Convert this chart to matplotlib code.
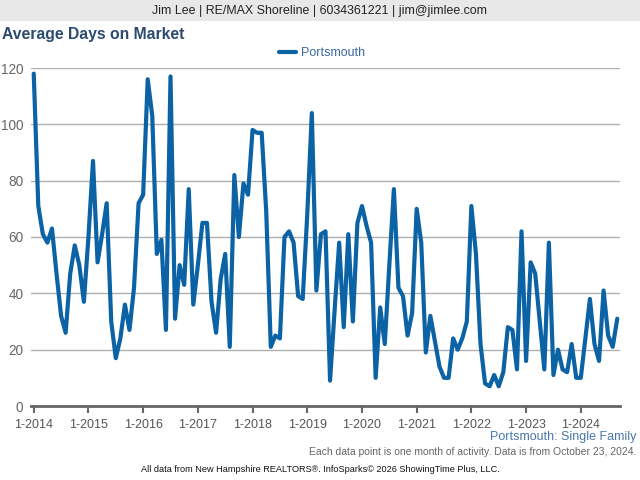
import matplotlib
matplotlib.use("Agg")
import matplotlib.pyplot as plt
from matplotlib.patches import Rectangle

plt.rcParams['font.family'] = ['Liberation Sans', 'DejaVu Sans']

series_name = "Portsmouth"
start_year = 2014
days_on_market = [
    118, 71, 61, 58, 63, 47, 32, 26, 47, 57, 50, 37,
    60, 87, 51, 61, 72, 30, 17, 24, 36, 27, 42, 72,
    75, 116, 103, 54, 59, 27, 117, 31, 50, 43, 77, 36,
    50, 65, 65, 37, 26, 45, 54, 21, 82, 60, 79, 75,
    98, 97, 97, 69, 21, 25, 24, 60, 62, 58, 39, 38,
    68, 104, 41, 61, 62, 9, 34, 58, 28, 61, 30, 65,
    71, 64, 58, 10, 35, 22, 50, 77, 42, 39, 25, 33,
    70, 58, 19, 32, 23, 14, 10, 10, 24, 20, 24, 30,
    71, 54, 22, 8, 7, 11, 7, 12, 28, 27, 13, 62,
    16, 51, 47, 30, 13, 58, 11, 20, 13, 12, 22, 10,
    10, 24, 38, 22, 16, 41, 25, 21, 31,
]
tick_labels = ["1-2014", "1-2015", "1-2016", "1-2017", "1-2018", "1-2019",
               "1-2020", "1-2021", "1-2022", "1-2023", "1-2024"]
y_ticks = [0, 20, 40, 60, 80, 100, 120]

W, H = 640, 480
fig = plt.figure(figsize=(6.4, 4.8), dpi=100)

def fx(px):
    return px / W

def fy(py):
    return 1 - py / H

# header banner
fig.patches.append(Rectangle((0, fy(21)), 1, 21 / H, transform=fig.transFigure,
                             facecolor="#e8e8e8", edgecolor="none", zorder=0))
fig.text(0.5, fy(11), "Jim Lee | RE/MAX Shoreline | 6034361221 | jim@jimlee.com",
         ha="center", va="center", fontsize=8.95, color="#222222")
fig.text(fx(2), fy(35), "Average Days on Market", ha="left", va="center",
         fontsize=11.3, fontweight="bold", color="#2b4a6f")

ax = fig.add_axes([fx(31), fy(406), fx(620) - fx(31), fy(68) - fy(406)])
x = list(range(len(days_on_market)))
line_color = "#0b62a4"
ax.plot(x, days_on_market, color=line_color, linewidth=3.0, solid_joinstyle="round",
        solid_capstyle="round", label=series_name, zorder=3)

ax.set_xlim(-0.6, 128.6)
ax.set_ylim(0, 120)
ax.set_yticks(y_ticks)
ax.set_yticklabels([str(v) for v in y_ticks])
ax.set_xticks([12 * i for i in range(len(tick_labels))])
ax.set_xticklabels(tick_labels)
ax.grid(axis="y", color="#b0b0b0", linewidth=1.0, zorder=0)
ax.set_axisbelow(True)
for s in ["top", "right", "left"]:
    ax.spines[s].set_visible(False)
ax.spines["bottom"].set_color("#666666")
ax.spines["bottom"].set_linewidth(2.0)
ax.spines["bottom"].set_zorder(4)
ax.tick_params(axis="y", length=0, pad=5.5, labelsize=9.8, labelcolor="#666666")
ax.tick_params(axis="x", length=5, width=1.5, color="#666666", pad=4,
               labelsize=9, labelcolor="#555555")

leg = fig.legend(handles=ax.get_lines(), labels=[series_name], loc="center",
                 bbox_to_anchor=(fx(322), fy(53)), frameon=False, fontsize=9,
                 handlelength=1.3, handletextpad=0.4)
for t in leg.get_texts():
    t.set_color("#3a6aa0")

fig.text(fx(636), fy(437), "Portsmouth: Single Family", ha="right", va="center",
         fontsize=9, color="#4a78aa")
fig.text(fx(636), fy(452), "Each data point is one month of activity. Data is from October 23, 2024.",
         ha="right", va="center", fontsize=7.5, color="#666666")
fig.text(0.5, fy(470), "All data from New Hampshire REALTORS\u00ae. InfoSparks\u00a9 2026 ShowingTime Plus, LLC.",
         ha="center", va="center", fontsize=6.6, color="#111111")

fig.savefig("out.png", dpi=100)
